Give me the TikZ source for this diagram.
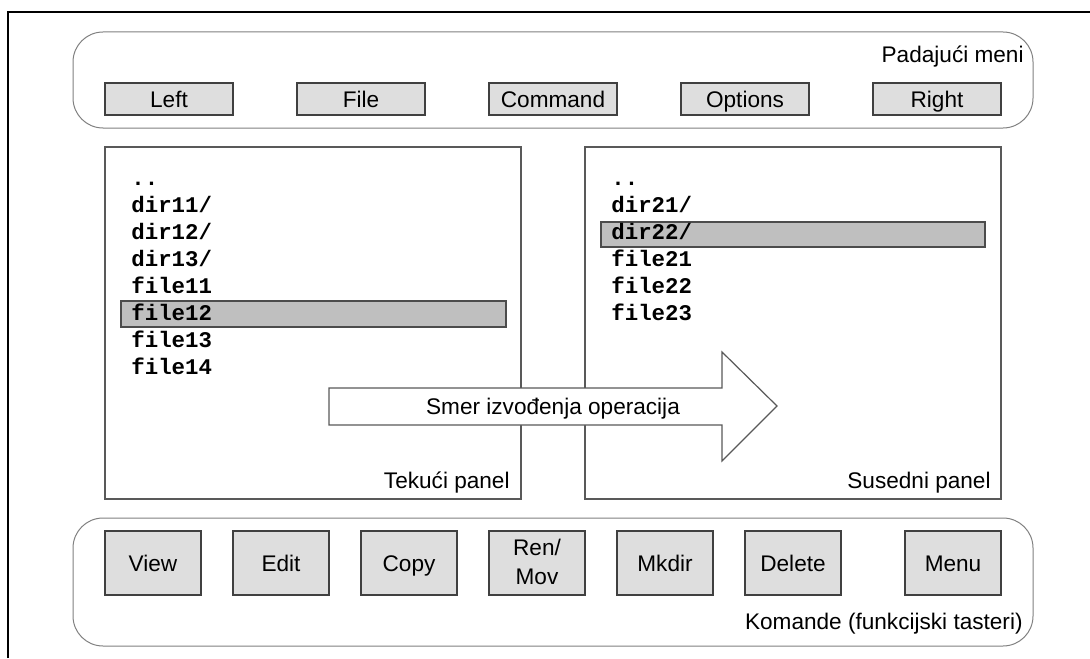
\documentclass[tikz,border=0pt]{standalone}
\usepackage{fontspec}
\setmainfont{Liberation Sans}
\newfontfamily\listfont{Liberation Mono}
\begin{document}
\begin{tikzpicture}[x=0.5pt,y=-0.5pt,
  font=\fontsize{11.3}{14.5}\selectfont,
  group/.style={draw=black!50, line width=0.5pt, rounded corners=15pt},
  panel/.style={draw=black!65, line width=0.6pt},
  menubtn/.style={draw=black!75, fill=black!13, line width=0.6pt,
    minimum width=64pt, minimum height=16pt, inner sep=0pt,
    text height=8.2pt, text depth=0pt},
  keybtn/.style={draw=black!75, fill=black!13, line width=0.6pt,
    minimum width=48pt, minimum height=32pt, inner sep=0pt},
  keylabel/.style={anchor=base, inner sep=0pt},
  sel/.style={draw=black!70, fill=black!25, line width=0.6pt},
  entry/.style={anchor=base west, inner sep=0pt,
    font=\listfont\bfseries\fontsize{11.2}{13}\selectfont},
  caption/.style={anchor=base east, inner sep=0pt}]
\useasboundingbox (0,0) rectangle (1090,658);

% outer frame
\draw[line width=1pt] (8,658) -- (8,12) -- (1090,12);

% drop-down menu bar
\draw[group] (73,32) rectangle (1033,128);
\node[caption] (menucap) at (1024,62) {Padajući meni};
\node[menubtn] (bleft)  at (169,99) {Left};
\node[menubtn] (bfile)  at (361,99) {File};
\node[menubtn] (bcmd)   at (553,99) {Command};
\node[menubtn] (bopt)   at (745,99) {Options};
\node[menubtn] (bright) at (937,99) {Right};

% current panel
\draw[panel] (105,147) rectangle (521,499);
\draw[sel] (121,301) rectangle (506,327);
\node[entry] (l0) at (131,185) {..};
\node[entry] (l1) at (131,212) {dir11/};
\node[entry] (l2) at (131,239) {dir12/};
\node[entry] (l3) at (131,266) {dir13/};
\node[entry] (l4) at (131,293) {file11};
\node[entry] (l5) at (131,320) {file12};
\node[entry] (l6) at (131,347) {file13};
\node[entry] (l7) at (131,374) {file14};
\node[caption] (curcap) at (510,488) {Tekući panel};

% neighbouring panel
\draw[panel] (585,147) rectangle (1001,499);
\draw[sel] (601,222) rectangle (985,247);
\node[entry] (r0) at (611,185) {..};
\node[entry] (r1) at (611,212) {dir21/};
\node[entry] (r2) at (611,239) {dir22/};
\node[entry] (r3) at (611,266) {file21};
\node[entry] (r4) at (611,293) {file22};
\node[entry] (r5) at (611,320) {file23};
\node[caption] (nbcap) at (991,488) {Susedni panel};

% direction arrow
\draw[panel, fill=white] (329,388) -- (722,388) -- (722,352) -- (777,406)
  -- (722,461) -- (722,425) -- (329,425) -- cycle;
\node[anchor=base, inner sep=0pt] (dir) at (553,414) {Smer izvođenja operacija};

% function keys
\draw[group] (73,518) rectangle (1033,646);
\node[keybtn] (kview)  at (153,563) {};
\node[keybtn] (kedit)  at (281,563) {};
\node[keybtn] (kcopy)  at (409,563) {};
\node[keybtn] (kmove)  at (537,563) {};
\node[keybtn] (kmkdir) at (665,563) {};
\node[keybtn] (kdel)   at (793,563) {};
\node[keybtn] (kmenu)  at (953,563) {};
\node[keylabel] (tview)  at ([yshift=-4pt]kview.center)  {View};
\node[keylabel] (tedit)  at ([yshift=-4pt]kedit.center)  {Edit};
\node[keylabel] (tcopy)  at ([yshift=-4pt]kcopy.center)  {Copy};
\node[keylabel] (tmkdir) at ([yshift=-4pt]kmkdir.center) {Mkdir};
\node[keylabel] (tdel)   at ([yshift=-4pt]kdel.center)   {Delete};
\node[keylabel] (tmenu)  at ([yshift=-4pt]kmenu.center)  {Menu};
\node[keylabel] (tren)   at ([yshift=-12.5pt]kmove.north) {Ren/};
\node[keylabel] (tmov)   at ([yshift=-27pt]kmove.north)   {Mov};
\node[caption] (keycap) at (1023,629) {Komande (funkcijski tasteri)};
\end{tikzpicture}
\end{document}
